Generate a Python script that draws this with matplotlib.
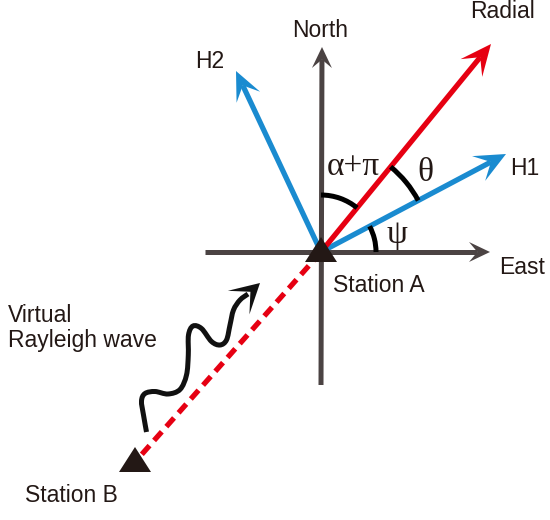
import numpy as np
import matplotlib
matplotlib.use("Agg")
import matplotlib.pyplot as plt
from matplotlib.patches import Arc, Polygon, PathPatch
from matplotlib.path import Path

W, H = 550, 520

# positions (pixels, y down)
station_a = (321, 252)
station_b = (135, 462)
north_tip = (322, 47)
south_end = (321, 385)
east_tip = (490, 252)
west_end = (205, 252)
radial_tip = (491, 44)
h1_tip = (506, 154)
h2_tip = (236, 71)

# virtual Rayleigh wave squiggle
wave_x = [146.5, 143.5, 141.5, 145, 155, 168, 180, 186.5, 188.3, 188.5, 193,
          201.5, 211.5, 220, 226.5, 230, 233.5, 240, 248]
wave_y = [432, 415, 401, 393.5, 391.5, 394, 389.5, 375, 355, 335, 326,
          328.5, 341.5, 345, 340, 325, 310, 300, 294]
wave_tip = (260, 283)

# arc radii (pixels)
r_alpha, r_theta, r_psi = 57, 110, 55

GRAY = "#4b4343"
RED = "#e60012"
BLUE = "#1a8bd0"
INK = "#231815"


def flip(p):
    return np.array([p[0], H - p[1]], dtype=float)


def angle(tip):
    d = flip(tip) - flip(station_a)
    return np.degrees(np.arctan2(d[1], d[0]))


fig = plt.figure(figsize=(5.5, 5.2), dpi=100)
ax = fig.add_axes([0, 0, 1, 1])
ax.set_xlim(0, W)
ax.set_ylim(0, H)
ax.set_aspect("equal")
ax.axis("off")


def arrow(start, tip, color, lw, hl, hw, notch=0.5, z=2):
    s = flip(start)
    t = flip(tip)
    u = (t - s) / np.linalg.norm(t - s)
    n = np.array([-u[1], u[0]])
    back = t - notch * hl * u
    ax.plot([s[0], back[0]], [s[1], back[1]], color=color, lw=lw,
            solid_capstyle="butt", zorder=z)
    pts = [t, t - hl * u + hw * n, back, t - hl * u - hw * n]
    ax.add_patch(Polygon(pts, closed=True, fc=color, ec="none", zorder=z))


# North / East axes
arrow(south_end, north_tip, GRAY, 3.6, 21, 10, notch=0.6, z=1)
arrow(west_end, east_tip, GRAY, 3.6, 21, 10, notch=0.6, z=1)

# components
arrow(station_a, radial_tip, RED, 3.8, 31, 14, notch=0.55, z=3)
arrow(station_a, h1_tip, BLUE, 3.8, 31, 14, notch=0.55, z=2)
arrow(station_a, h2_tip, BLUE, 3.8, 29, 13, notch=0.55, z=2)

# dashed path between stations
a = flip(station_a)
b = flip(station_b)
ax.plot([a[0], b[0]], [a[1], b[1]], color=RED, lw=3.8,
        linestyle=(0, (2.2, 1.3)), dash_capstyle="butt", zorder=3)

# angle arcs
ang_r, ang_h1 = angle(radial_tip), angle(h1_tip)
for r, t1, t2 in [(r_alpha, ang_r, 90), (r_theta, ang_h1, ang_r), (r_psi, 0, ang_h1)]:
    ax.add_patch(Arc(a, 2 * r, 2 * r, theta1=t1, theta2=t2, color="black",
                     lw=3.6, zorder=4))

# stations
for st in (station_a, station_b):
    c = flip(st)
    ax.add_patch(Polygon([(c[0], c[1] + 15), (c[0] - 16, c[1] - 10), (c[0] + 16, c[1] - 10)],
                         closed=True, fc=INK, ec="none", zorder=6))

# wave squiggle (smooth curve through the points)
pts = np.column_stack([wave_x, H - np.array(wave_y)])
verts = [pts[0]]
codes = [Path.MOVETO]
for i in range(len(pts) - 1):
    p0 = pts[max(i - 1, 0)]
    p1 = pts[i]
    p2 = pts[i + 1]
    p3 = pts[min(i + 2, len(pts) - 1)]
    verts += [p1 + (p2 - p0) / 6, p2 - (p3 - p1) / 6, p2]
    codes += [Path.CURVE4] * 3
ax.add_patch(PathPatch(Path(verts, codes), fc="none", ec="#111111", lw=3.6,
                       capstyle="butt", zorder=5))
t = flip(wave_tip)
u = (t - pts[-1]) / np.linalg.norm(t - pts[-1])
n = np.array([-u[1], u[0]])
ax.add_patch(Polygon([t, t - 29 * u + 16 * n, t - 13 * u, t - 29 * u - 16 * n],
                     closed=True, fc="#111111", ec="none", zorder=5))

# labels
sans = dict(family=["Liberation Sans", "DejaVu Sans"], fontsize=16.5, color=INK)
serif = dict(family=["Liberation Serif", "DejaVu Serif"], fontsize=24, color=INK)
ax.text(320, H - 37, "North", ha="center", va="baseline", **sans)
ax.text(470, H - 18.5, "Radial", ha="left", va="baseline", **sans)
ax.text(195, H - 68, "H2", ha="left", va="baseline", **sans)
ax.text(510, H - 175, "H1", ha="left", va="baseline", **sans)
ax.text(499, H - 274, "East", ha="left", va="baseline", **sans)
ax.text(333, H - 292, "Station A", ha="left", va="baseline", **sans)
ax.text(25, H - 502, "Station B", ha="left", va="baseline", **sans)
ax.text(8, H - 347, "Virtual\nRayleigh wave", ha="left", va="baseline",
        linespacing=1.12, **sans)
ax.text(327, H - 175, "\u03b1+\u03c0", ha="left", va="baseline", **serif)
ax.text(425.5, H - 173, "\u03b8", ha="center", va="center", **serif)
ax.text(397, H - 235, "\u03c8", ha="center", va="center", **serif)

fig.savefig("out.png", dpi=100)
